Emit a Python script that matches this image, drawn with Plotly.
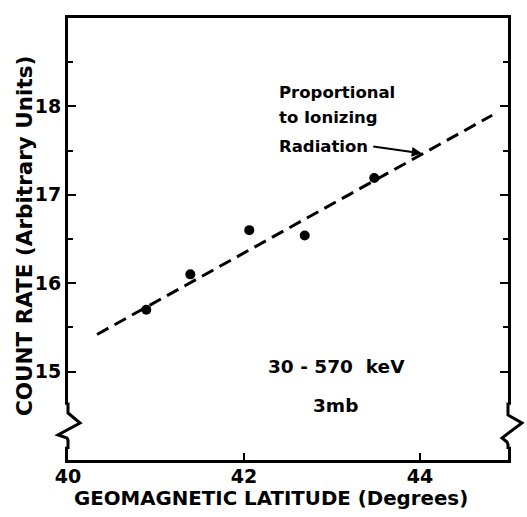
import plotly.graph_objects as go

# Measured count rates versus geomagnetic latitude
latitude = [40.89, 41.39, 42.06, 42.69, 43.48]
count_rate = [15.70, 16.10, 16.60, 16.54, 17.19]

# Line proportional to ionizing radiation (end points)
fit_latitude = [40.33, 44.82]
fit_rate = [15.42, 17.90]

x_ticks = [40, 42, 44]
y_ticks = [15, 16, 17, 18]
y_minor = [15.5, 16.5, 17.5, 18.5]

x_title = "GEOMAGNETIC LATITUDE (Degrees)"
y_title = "COUNT RATE (Arbitrary Units)"
label_lines = ["Proportional", "to Ionizing", "Radiation"]
energy_text = "30 - 570  keV"
pressure_text = "3mb"

FONT = "DejaVu Sans"
INK = "black"


def bold(size):
    return dict(family=FONT, size=size, color=INK, weight="bold")


# Helpers to place text by pixel position relative to the plot area
PX0, PX1, PY0, PY1 = 68, 508, 18, 460


def px(x):
    return (x - PX0) / (PX1 - PX0)


def py(y):
    return (PY1 - y) / (PY1 - PY0)


fig = go.Figure()

fig.add_trace(go.Scatter(
    x=fit_latitude, y=fit_rate, mode="lines",
    line=dict(color=INK, width=3, dash="13px,7px"),
    hoverinfo="skip", showlegend=False,
))
fig.add_trace(go.Scatter(
    x=latitude, y=count_rate, mode="markers",
    marker=dict(color=INK, size=10),
    showlegend=False,
))

# Arrow from the label to the line
fig.add_annotation(
    x=44.02, y=17.47, xref="x", yref="y", text="",
    showarrow=True, arrowhead=2, arrowsize=1, arrowwidth=2, arrowcolor=INK,
    ax=-50, ay=-7, standoff=0,
)
for line, yc in zip(label_lines, [93, 118, 146]):
    fig.add_annotation(
        x=px(277), y=py(yc), xref="paper", yref="paper",
        xanchor="left", yanchor="middle", showarrow=False,
        text=line, font=bold(16.5),
    )
fig.add_annotation(
    x=px(336), y=py(366), xref="paper", yref="paper",
    xanchor="center", yanchor="middle", showarrow=False,
    text=energy_text, font=bold(18.5),
)
fig.add_annotation(
    x=px(335), y=py(405), xref="paper", yref="paper",
    xanchor="center", yanchor="middle", showarrow=False,
    text=pressure_text, font=bold(18.5),
)

# Axis titles
fig.add_annotation(
    x=px(271), y=py(499), xref="paper", yref="paper",
    xanchor="center", yanchor="middle", showarrow=False,
    text=x_title, font=bold(19.8),
)
fig.add_annotation(
    x=px(24), y=py(236), xref="paper", yref="paper",
    xanchor="center", yanchor="middle", showarrow=False, textangle=-90,
    text=y_title, font=bold(21.5),
)

# Axis breaks on both vertical axes
fig.add_shape(type="rect", xref="paper", yref="paper",
              x0=-0.01, x1=0.01, y0=0.03, y1=0.125,
              fillcolor="white", line=dict(width=0), layer="above")
fig.add_shape(type="rect", xref="paper", yref="paper",
              x0=0.99, x1=1.01, y0=0.03, y1=0.125,
              fillcolor="white", line=dict(width=0), layer="above")
fig.add_shape(type="path", xref="paper", yref="paper", layer="above",
              path="M 0,0.13 L 0,0.1063 L 0.0273,0.0837 L -0.0227,0.0566 "
                   "L -0.0023,0.0498 L 0,0.045 L 0,0.025",
              line=dict(color=INK, width=3))
fig.add_shape(type="path", xref="paper", yref="paper", layer="above",
              path="M 1,0.13 L 1,0.1018 L 1.0318,0.0837 L 0.9864,0.0498 "
                   "L 0.9977,0.0407 L 1,0.035 L 1,0.025",
              line=dict(color=INK, width=3))

fig.update_xaxes(
    range=[40, 45], tickvals=x_ticks, ticks="inside", ticklen=7, tickwidth=2,
    tickcolor=INK, showline=True, linewidth=3, linecolor=INK, mirror=True,
    showgrid=False, zeroline=False, tickfont=bold(19), ticklabelstandoff=-3,
)
fig.update_yaxes(
    range=[14, 19], tickvals=y_ticks, ticks="inside", ticklen=8, tickwidth=2,
    tickcolor=INK, showline=True, linewidth=3, linecolor=INK, mirror="ticks",
    showgrid=False, zeroline=False,
    minor=dict(tickvals=y_minor, ticks="inside", ticklen=5, tickwidth=2,
               tickcolor=INK, showgrid=False),
    tickfont=bold(19),
)

fig.update_layout(
    width=527, height=517,
    margin=dict(l=68, r=19, t=18, b=57),
    paper_bgcolor="white", plot_bgcolor="white",
)

fig.write_html("out.html")
